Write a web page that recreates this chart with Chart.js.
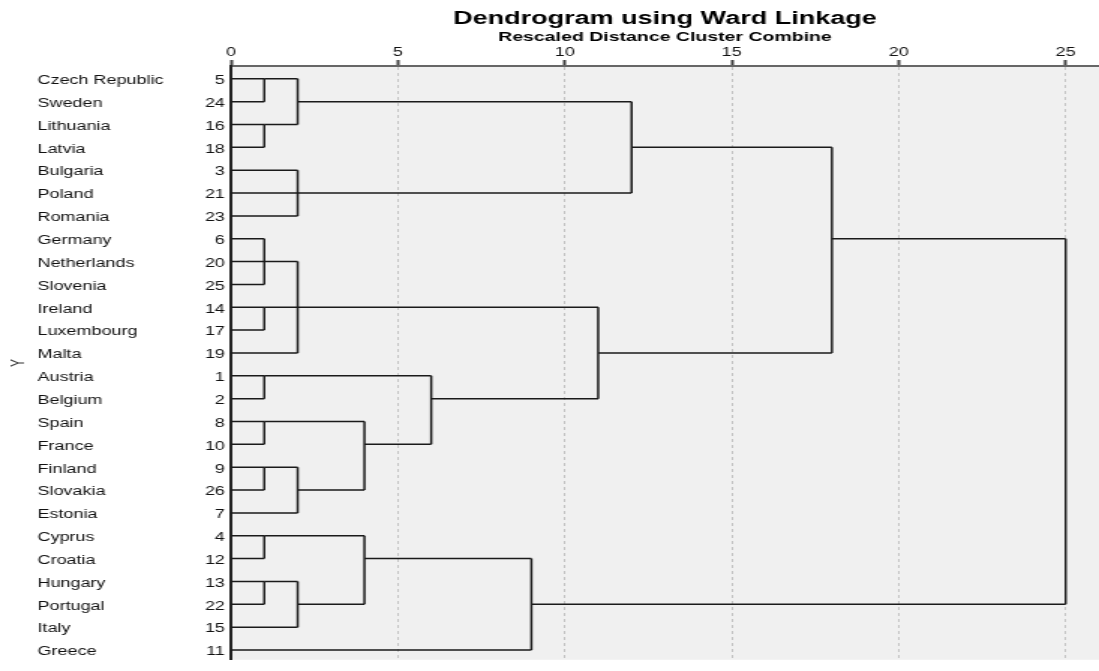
<!DOCTYPE html>
<html>
<head>
<meta charset="utf-8">
<script src="https://cdn.jsdelivr.net/npm/chart.js@4/dist/chart.umd.min.js"></script>
<style>
  html, body { margin: 0; padding: 0; background: #fff; overflow: hidden; }
</style>
</head>
<body>
<!-- the source picture is stretched sideways, so the canvas is drawn narrow and widened -->
<canvas id="dendro" width="733" height="671" style="width:1099px;height:671px;"></canvas>
<script>
const countries = ['Czech Republic', 'Sweden', 'Lithuania', 'Latvia', 'Bulgaria', 'Poland', 'Romania',
  'Germany', 'Netherlands', 'Slovenia', 'Ireland', 'Luxembourg', 'Malta', 'Austria', 'Belgium',
  'Spain', 'France', 'Finland', 'Slovakia', 'Estonia', 'Cyprus', 'Croatia', 'Hungary', 'Portugal',
  'Italy', 'Greece'];
const caseNumbers = [5, 24, 16, 18, 3, 21, 23, 6, 20, 25, 14, 17, 19, 1, 2, 8, 10, 9, 26, 7, 4, 12, 13, 22, 15, 11];
const xTicks = [0, 5, 10, 15, 20, 25];

// merges: rescaled distance, first and last row joined, row where the new cluster goes on, parent merge
const mergeDistance = [1, 1, 2, 2, 12, 1, 1, 2, 1, 1, 1, 2, 4, 6, 11, 18, 1, 1, 2, 4, 9, 25];
const mergeTop      = [0, 2, 0, 4, 1, 7, 10, 8, 13, 15, 17, 17, 15, 13, 10, 3, 20, 22, 22, 20, 21, 7];
const mergeBottom   = [1, 3, 2, 6, 5, 9, 11, 12, 14, 16, 18, 19, 18, 16, 14, 12, 21, 23, 24, 23, 25, 23];
const mergeRow      = [0, 2, 1, 5, 3, 8, 10, 10, 13, 15, 17, 18, 16, 14, 12, 7, 20, 22, 23, 21, 23, -1];
const mergeParent   = [2, 2, 4, 4, 15, 7, 7, 14, 13, 12, 11, 12, 13, 14, 15, 21, 19, 18, 19, 20, 21, -1];
// first merge each case enters
const leafMerge = [0, 0, 1, 1, 3, 3, 3, 5, 5, 5, 6, 6, 7, 8, 8, 9, 9, 10, 10, 11, 16, 16, 17, 17, 18, 20];

// build line pieces
const segments = [];
countries.forEach((c, i) => {
  segments.push([{x: 0, y: i}, {x: mergeDistance[leafMerge[i]], y: i}]);
});
mergeDistance.forEach((d, m) => {
  segments.push([{x: d, y: mergeTop[m]}, {x: d, y: mergeBottom[m]}]);
  const p = mergeParent[m];
  if (p >= 0) segments.push([{x: d, y: mergeRow[m]}, {x: mergeDistance[p], y: mergeRow[m]}]);
});

const plotBackground = {
  id: 'plotBackground',
  beforeDraw(chart) {
    const {ctx, chartArea: a} = chart;
    ctx.save();
    ctx.fillStyle = '#f0f0f0';
    ctx.fillRect(a.left, a.top, a.right - a.left, a.bottom - a.top);
    ctx.restore();
  }
};

Chart.defaults.font.family = "'Liberation Sans', Arial, sans-serif";
Chart.defaults.color = '#111';

const rowTicks = (s) => { s.ticks = countries.map((c, i) => ({value: i})); };
const yMin = -0.56, yMax = 25.43;

new Chart(document.getElementById('dendro'), {
  type: 'scatter',
  data: {
    datasets: segments.map(seg => ({
      data: seg, showLine: true, borderColor: '#1a1a1a', borderWidth: 1.5,
      pointRadius: 0, xAxisID: 'x', yAxisID: 'yNum'
    }))
  },
  options: {
    responsive: false, animation: false, events: [],
    layout: { padding: 0, autoPadding: false },
    plugins: {
      legend: { display: false },
      tooltip: { enabled: false },
      title: { display: true, text: 'Dendrogram using Ward Linkage', fullSize: false, color: '#000',
        font: { size: 18, weight: 'bold' }, padding: { top: 8, bottom: 0 } },
      subtitle: { display: true, text: 'Rescaled Distance Cluster Combine', fullSize: false, color: '#000',
        font: { size: 13, weight: 'bold' }, padding: { top: 0, bottom: 0 } }
    },
    scales: {
      x: {
        type: 'linear', position: 'top', min: 0, max: 26,
        afterBuildTicks: (s) => { s.ticks = xTicks.map(v => ({value: v})); },
        afterFit: (s) => { s.height = 20.8; },
        ticks: { font: { size: 12 }, padding: 0, color: '#111' },
        grid: { color: (c) => c.tick && c.tick.value === 0 ? 'rgba(0,0,0,0)' : '#c4c4c4',
          lineWidth: 1, tickLength: 6, tickWidth: 2, tickColor: '#444' },
        border: { display: true, color: '#666', width: 2, dash: [3, 3] }
      },
      yNum: {
        type: 'linear', position: 'left', reverse: true, min: yMin, max: yMax, weight: 1,
        afterBuildTicks: rowTicks,
        afterFit: (s) => { s.width = 29; },
        ticks: { autoSkip: false, padding: 4, labelOffset: 2, font: { size: 12 }, color: '#111',
          callback: (v) => caseNumbers[v] },
        grid: { display: false, drawTicks: false },
        border: { display: true, color: '#222', width: 2 }
      },
      yName: {
        type: 'linear', position: 'left', reverse: true, min: yMin, max: yMax, weight: 2,
        afterBuildTicks: rowTicks,
        afterFit: (s) => { s.width = 100; },
        ticks: { autoSkip: false, crossAlign: 'far', labelOffset: 2, font: { size: 12 }, color: '#111',
          callback: (v) => countries[v] },
        grid: { display: false, drawTicks: false },
        border: { display: false }
      },
      yTitle: {
        type: 'linear', position: 'left', weight: 3,
        afterFit: (s) => { s.width = 25; },
        ticks: { display: false },
        grid: { display: false, drawTicks: false },
        border: { display: false },
        title: { display: true, text: 'Y', color: '#333', font: { size: 12 }, padding: { top: 5, bottom: 0 } }
      }
    }
  },
  plugins: [plotBackground]
});
</script>
</body>
</html>
